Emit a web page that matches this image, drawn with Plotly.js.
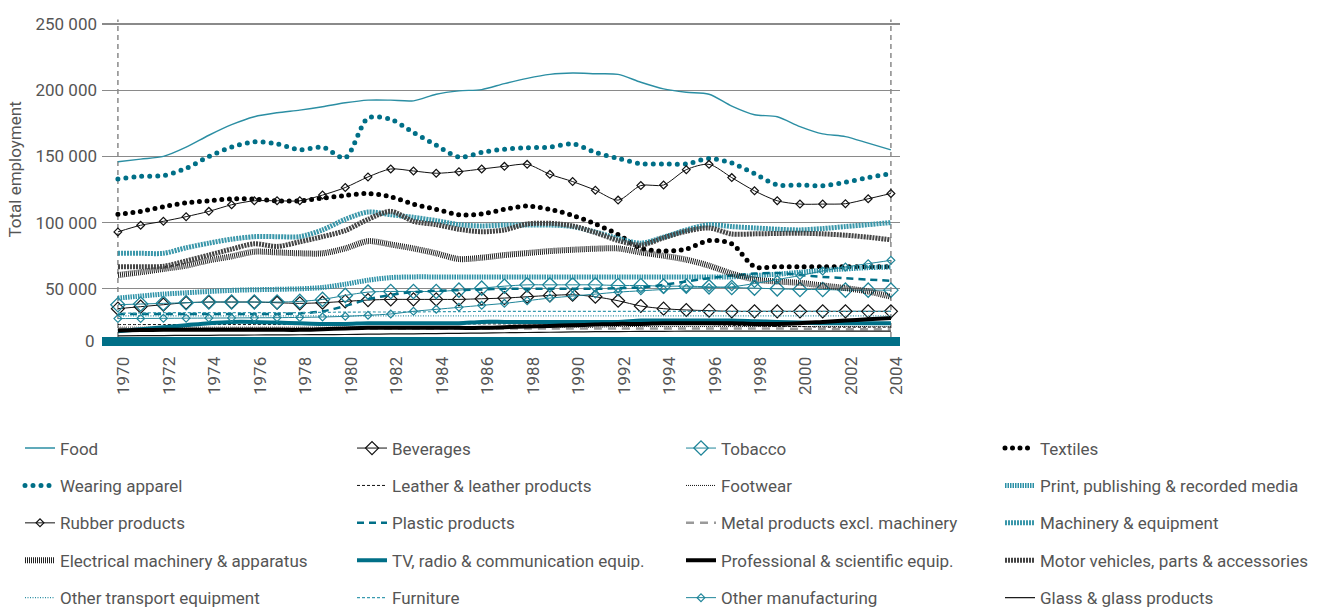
<!DOCTYPE html>
<html>
<head>
<meta charset="utf-8">
<script src="https://cdn.plot.ly/plotly-3.0.1.min.js"></script>
<style>
  html, body { margin:0; padding:0; background:#fff; }
  #chart { width:1321px; height:612px; }
</style>
</head>
<body>
<div id="chart"></div>
<script>
// ---------------- DATA ----------------
var years = [1970,1971,1972,1973,1974,1975,1976,1977,1978,1979,1980,1981,1982,1983,1984,1985,1986,1987,1988,1989,1990,1991,1992,1993,1994,1995,1996,1997,1998,1999,2000,2001,2002,2003,2004];

var food = [146000,148000,150000,157000,166000,174000,180000,183000,185000,187500,190500,192500,192500,192000,197000,199500,200500,205000,209000,212000,213000,212500,212000,206000,201000,198500,197000,188000,181500,180000,172500,167000,165000,160000,155000];
var beverages = [35000,36500,38000,39500,40000,40000,40000,39500,39000,39500,40500,41500,42000,42000,42000,42000,42500,43000,44000,45000,45500,44000,41000,37000,35000,34000,33500,33000,33000,33000,33000,33000,33000,33000,33000];
var tobacco = [38000,38500,39000,39500,40000,40000,40000,40000,40500,42000,45000,47500,48000,48000,48000,49000,50500,52000,53000,53000,53000,53000,52500,52500,52000,52000,51500,51000,50500,50000,49500,49500,49000,49000,49000];
var textiles = [106300,108500,112000,115000,116500,118000,117800,116500,116500,118500,120500,122000,119500,114000,110000,106000,106500,110000,112500,110000,105500,99000,91000,80600,78500,80000,86500,84000,66700,66700,66700,66700,66700,66700,66700];
var wearingApparel = [133000,135000,135500,141000,150000,157000,161000,159500,155000,157000,149000,179000,178000,168000,158500,149500,153000,155500,156600,157000,159500,153000,148500,144500,144300,144300,148500,145000,137000,128500,128400,127800,130500,134000,137000];
var leather = [23000,23000,23000,23000,23000,23000,23000,23000,23000,23000,23000,23500,23500,23500,23500,23500,23500,23500,23500,23500,23500,23500,23500,23500,23500,23500,23000,22500,22000,21500,21500,21000,21000,21000,21000];
var footwear = [21000,21000,21000,21000,21000,21000,21000,21000,21000,21000,21000,21000,21000,21000,21000,21000,21000,21000,21000,21000,21000,21000,21500,21500,21500,21500,21500,21500,21500,21500,21500,21500,21500,21500,21500];
var printMedia = [43000,44500,46000,47000,48000,48800,49300,49600,50000,51000,53500,56500,58500,59000,59000,59000,59000,59000,59000,59000,59000,59000,59000,59000,59000,59000,59000,59000,60000,61000,62500,64000,65000,66000,66500];
var rubber = [93000,98000,101000,104500,108500,113500,116500,116500,116500,120800,126500,134500,140500,139000,137300,138500,140500,142500,144000,136500,131000,124500,117000,128000,128400,140000,144000,134000,124000,116500,114000,114000,114300,118000,122000];
var plastic = [31000,31000,31000,31000,31000,31000,31000,31000,31500,33000,37000,42000,45500,47500,48500,49000,49500,50000,50000,50000,50000,50000,50500,51000,53000,55500,58000,60000,61500,62000,60500,59000,58000,57000,56000];
var metal = [20000,20000,20000,20000,20000,20000,20000,20000,20000,20000,20000,20000,20000,20000,20000,20000,20000,20000,20000,20000,20000,20000,20000,20000,20000,20000,20000,20000,20000,20000,19800,19800,19500,19500,19500];
var machinery = [76800,76800,76800,81000,84500,87500,89400,89400,89400,94500,102500,108000,106000,104000,101500,98500,97500,98200,98200,98200,97000,93000,88000,84500,89000,94500,98500,97000,96000,95000,94500,95500,97000,98500,100000];
var electrical = [60400,62500,65000,67500,71500,74500,78000,77500,76800,76800,80500,86000,83500,80500,76800,72500,73500,75500,77000,78500,79500,80300,80500,77500,75000,72000,67500,61500,57000,55500,54500,52500,50500,48000,44000];
var tvRadio = [18000,19500,21000,22500,24000,25000,25000,24500,24000,23500,23500,24000,24000,24000,24000,24000,25000,25000,25000,25000,25000,25000,25000,26000,26000,26000,26000,26000,25500,25000,24500,24000,24000,24000,24000];
var professional = [18500,18800,19000,19000,19000,19000,19000,19000,19000,19500,20000,20500,20500,20500,20500,20500,20500,21000,21500,22000,22500,23000,23500,23500,24000,24000,24000,24000,23500,23500,24000,25000,26000,27000,28000];
var motor = [66700,66700,67000,71000,75500,80000,84000,82000,85500,89400,94000,102500,108500,101000,98500,95000,93100,94500,99000,99500,97500,92500,86500,83000,88500,93500,96000,91400,91500,91800,92000,91500,90500,89000,87000];
var otherTransport = [29500,29500,29500,29500,29500,29500,29500,29500,29500,29500,29500,29500,29500,29500,29500,29500,29500,29500,29500,29500,29500,29500,29500,29500,29500,29500,29500,29500,29500,29500,29500,29500,29500,29500,29500];
var furniture = [31500,31800,32000,32000,32000,32000,32000,32000,32000,32200,32400,32500,32500,32600,32700,32800,32900,33000,33000,33000,33000,33000,33000,33000,33000,33000,33000,33000,33000,33000,33000,33000,33000,33000,33000];
var otherManuf = [27500,27600,27700,27800,27900,28000,28100,28200,28400,28700,29200,30000,31000,33000,34500,36000,37500,39000,41000,43000,44500,46000,47500,48500,49500,50500,51000,51500,54000,57000,60000,63500,66500,69000,71500];
var glass = [14500,14600,14700,14800,14900,15000,15100,15200,15300,15400,15500,15700,15900,16000,16200,16400,16600,16800,17000,17200,17400,17600,17700,17800,17900,18000,18000,18000,18000,18000,18000,18000,18000,18000,18000];

var seriesNames = ["Food","Beverages","Tobacco","Textiles","Wearing apparel","Leather & leather products","Footwear","Print, publishing & recorded media","Rubber products","Plastic products","Metal products excl. machinery","Machinery & equipment","Electrical machinery & apparatus","TV, radio & communication equip.","Professional & scientific equip.","Motor vehicles, parts & accessories","Other transport equipment","Furniture","Other manufacturing","Glass & glass products"];
var seriesValues = [food,beverages,tobacco,textiles,wearingApparel,leather,footwear,printMedia,rubber,plastic,metal,machinery,electrical,tvRadio,professional,motor,otherTransport,furniture,otherManuf,glass];
var yAxisTitle = 'Total employment';

// ---------------- STYLES ----------------
var TEAL = '#006f87';
var styles = [
  {line:{color:'#2b8ea3', width:1.4}},                                   // Food
  {line:{color:'#111', width:1}, marker:{symbol:'diamond-open', size:10, color:'#111', line:{width:1.2}}}, // Beverages
  {line:{color:'#1f8599', width:1}, marker:{symbol:'diamond-open', size:11, color:'#1f8599', line:{width:1.3}}}, // Tobacco
  {line:{color:'#000', width:5, dash:'0px,7.5px'}},                      // Textiles
  {line:{color:TEAL, width:5, dash:'0px,8px'}},                          // Wearing apparel
  {line:{color:'#111', width:1, dash:'3px,2px'}},                        // Leather
  {line:{color:'#111', width:1, dash:'1px,1px'}},                        // Footwear
  {line:{color:'#2a90a6', width:5, dash:'1.5px,1px'}},                   // Print
  {line:{color:'#111', width:1}, marker:{symbol:'diamond-open', size:6, color:'#111', line:{width:1.2}}}, // Rubber
  {line:{color:TEAL, width:2.5, dash:'7px,5px'}},                        // Plastic
  {line:{color:'#9a9a9a', width:2.5, dash:'8px,6px'}},                   // Metal
  {line:{color:'#3a97aa', width:5, dash:'2px,1px'}},                     // Machinery
  {line:{color:'#222', width:6, dash:'1px,1px'}},                        // Electrical
  {line:{color:TEAL, width:4}},                                          // TV
  {line:{color:'#000', width:4}},                                        // Professional
  {line:{color:'#444', width:5, dash:'2px,1px'}},                        // Motor
  {line:{color:'#2b8ea3', width:1.2, dash:'1px,1.5px'}},                 // Other transport
  {line:{color:'#3a9bb0', width:1.2, dash:'3px,2px'}},                   // Furniture
  {line:{color:'#1f8599', width:1}, marker:{symbol:'diamond-open', size:6, color:'#1f8599', line:{width:1.2}}}, // Other manufacturing
  {line:{color:'#111', width:1.2}}                                       // Glass
];
var legendOf = ['legend','legend2','legend3','legend4'];

var traces = seriesNames.map(function(name, i){
  var s = styles[i];
  var t = {
    type:'scatter', x: years, y: seriesValues[i], name: name,
    mode: s.marker ? 'lines+markers' : 'lines',
    line: Object.assign({shape:'spline', smoothing:0.8}, s.line),
    legend: legendOf[i % 4], legendgroup: 'g' + i,
    hoverinfo:'skip'
  };
  if (s.marker) t.marker = s.marker;
  return t;
});

var FONT = 'Roboto, "Liberation Sans", sans-serif';
var TXT = '#555555';

function makeLegend(textX){
  return {
    xref:'container', yref:'container',
    x:(textX-40)/1321, y:1-430.5/612, xanchor:'left', yanchor:'top',
    orientation:'v', traceorder:'grouped', tracegroupgap:12.3,
    bgcolor:'rgba(0,0,0,0)', borderwidth:0,
    font:{family:FONT, size:17, color:TXT}
  };
}

var layout = {
  width:1321, height:612,
  margin:{l:102, r:421, t:21, b:275, pad:0, autoexpand:false},
  paper_bgcolor:'#fff', plot_bgcolor:'#fff',
  separators:'. ',
  font:{family:FONT, size:17, color:TXT},
  showlegend:true,
  legend: makeLegend(60),
  legend2: makeLegend(392),
  legend3: makeLegend(721),
  legend4: makeLegend(1040),
  xaxis:{
    range:[1969.30, 2004.40], tick0:1970, dtick:2, tickangle:-90,
    showgrid:false, zeroline:false, automargin:false,
    showline:true, linecolor:TEAL, linewidth:9,
    ticks:'', ticklabelshift:6, ticklabelstandoff:4,
    tickfont:{family:FONT, size:17, color:TXT}
  },
  yaxis:{
    range:[13600, 252300], tick0:0, dtick:50000, tickformat:',d',
    showgrid:true, gridcolor:'#8a8a8a', gridwidth:1.3, automargin:false,
    zeroline:false, showline:false, ticks:'',
    ticklabelstandoff:4,
    tickfont:{family:FONT, size:17, color:TXT}
  },
  shapes:[
    {type:'line', xref:'x', yref:'paper', x0:years[0], x1:years[0], y0:0, y1:1.005, layer:'below',
     line:{color:'#8a8a8a', width:1.5, dash:'5px,4px'}},
    {type:'line', xref:'x', yref:'paper', x0:years[years.length-1], x1:years[years.length-1], y0:0, y1:1.005, layer:'below',
     line:{color:'#8a8a8a', width:1.5, dash:'5px,4px'}}
  ],
  annotations:[
    {xref:'paper', yref:'paper', x:0, y:-0.013, xanchor:'right', yanchor:'middle', xshift:-5,
     text:'0', showarrow:false, font:{family:FONT, size:17, color:TXT}},
    {xref:'paper', yref:'paper', x:-0.109, y:0.53, xanchor:'center', yanchor:'middle', textangle:-90,
     text:yAxisTitle, showarrow:false, font:{family:FONT, size:17, color:TXT}}
  ]
};

Plotly.newPlot('chart', traces, layout, {staticPlot:true, displayModeBar:false}).then(function(gd){
  gd.querySelectorAll('path.js-line').forEach(function(p){
    var d = (p.style.strokeDasharray || '').replace(/\s/g,'');
    if (d.indexOf('0px,') === 0) p.style.strokeLinecap = 'round';
  });
});
</script>
</body>
</html>
